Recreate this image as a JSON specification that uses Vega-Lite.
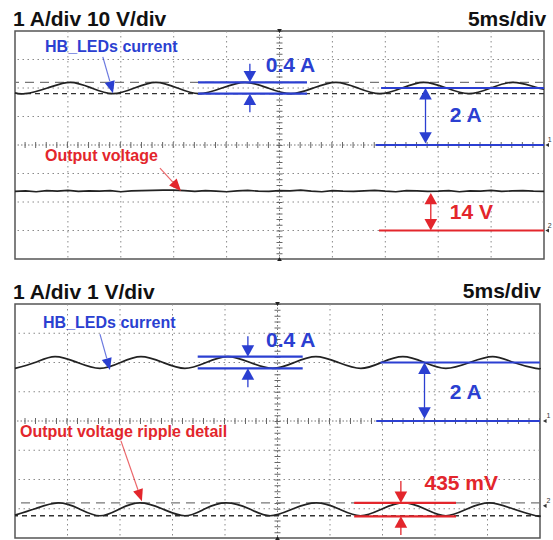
{
"$schema": "https://vega.github.io/schema/vega-lite/v6.json",
"background": "white",
"padding": {"left": 10, "top": 8, "right": 0, "bottom": 3},
"bounds": "flush",
"spacing": 45,
"config": {"view": {"stroke": "#555", "strokeWidth": 1.5}, "text": {"font": "Liberation Sans", "fontWeight": "bold"}},
"datasets": {
"vgrid": [{"x":5},{"x":10},{"x":15},{"x":20},{"x":30},{"x":35},{"x":40},{"x":45}],
"hgrid": [{"y":-3},{"y":-2},{"y":-1},{"y":1},{"y":2},{"y":3}],
"vc": [{"x":25}],
"hc": [{"y":0}],
"trig": [{"x":25,"y":4,"side":"top"},{"x":25,"y":-4,"side":"bottom"}],
"tCursor": [{"y":2.2,"lvl":"hi"},{"y":1.8,"lvl":"lo"}],
"bCursor": [{"y":-2.8,"lvl":"hi"},{"y":-3.24,"lvl":"lo"}],
"tCur": [{"x":0,"y":1.83},{"x":0.95,"y":1.8},{"x":3.07,"y":2.0},{"x":5.2,"y":2.2},{"x":7.23,"y":2.0},{"x":9.26,"y":1.8},{"x":11.29,"y":2.0},{"x":13.32,"y":2.2},{"x":15.35,"y":2.0},{"x":17.39,"y":1.8},{"x":19.56,"y":2.0},{"x":21.74,"y":2.2},{"x":23.9,"y":2.0},{"x":26.08,"y":1.8},{"x":28.2,"y":2.0},{"x":30.33,"y":2.2},{"x":32.4,"y":2.0},{"x":34.49,"y":1.8},{"x":36.57,"y":2.0},{"x":38.65,"y":2.2},{"x":40.78,"y":2.0},{"x":42.9,"y":1.8},{"x":44.98,"y":2.0},{"x":47.06,"y":2.2},{"x":49.0,"y":2.05},{"x":50,"y":1.96}],
"tVolt": [{"x":0,"y":-1.63},{"x":1,"y":-1.61},{"x":2,"y":-1.64},{"x":3,"y":-1.6},{"x":4,"y":-1.62},{"x":5,"y":-1.59},{"x":6,"y":-1.63},{"x":7,"y":-1.61},{"x":8,"y":-1.62},{"x":9,"y":-1.6},{"x":10,"y":-1.64},{"x":11,"y":-1.61},{"x":12,"y":-1.6},{"x":13,"y":-1.59},{"x":14,"y":-1.58},{"x":15,"y":-1.58},{"x":16,"y":-1.6},{"x":17,"y":-1.63},{"x":18,"y":-1.6},{"x":19,"y":-1.62},{"x":20,"y":-1.64},{"x":21,"y":-1.61},{"x":22,"y":-1.59},{"x":23,"y":-1.62},{"x":24,"y":-1.63},{"x":25,"y":-1.6},{"x":26,"y":-1.61},{"x":27,"y":-1.58},{"x":28,"y":-1.62},{"x":29,"y":-1.64},{"x":30,"y":-1.6},{"x":31,"y":-1.62},{"x":32,"y":-1.63},{"x":33,"y":-1.61},{"x":34,"y":-1.59},{"x":35,"y":-1.62},{"x":36,"y":-1.64},{"x":37,"y":-1.6},{"x":38,"y":-1.61},{"x":39,"y":-1.63},{"x":40,"y":-1.62},{"x":41,"y":-1.6},{"x":42,"y":-1.64},{"x":43,"y":-1.61},{"x":44,"y":-1.62},{"x":45,"y":-1.59},{"x":46,"y":-1.63},{"x":47,"y":-1.61},{"x":48,"y":-1.6},{"x":49,"y":-1.62},{"x":50,"y":-1.63}],
"bCur": [{"x":0,"y":1.8},{"x":1.9,"y":2.0},{"x":3.81,"y":2.2},{"x":5.95,"y":2.0},{"x":8.09,"y":1.8},{"x":10.05,"y":2.0},{"x":12.0,"y":2.2},{"x":14.1,"y":2.0},{"x":16.18,"y":1.8},{"x":18.2,"y":2.0},{"x":20.28,"y":2.2},{"x":22.4,"y":2.0},{"x":24.56,"y":1.8},{"x":26.6,"y":2.0},{"x":28.66,"y":2.2},{"x":30.8,"y":2.0},{"x":32.94,"y":1.8},{"x":34.9,"y":2.0},{"x":36.94,"y":2.2},{"x":39.0,"y":2.0},{"x":41.03,"y":1.8},{"x":43.3,"y":2.0},{"x":45.5,"y":2.2},{"x":47.5,"y":2.0},{"x":49.6,"y":1.8},{"x":50,"y":1.81}],
"bRip": [{"x":0,"y":-3.22},{"x":1.9,"y":-3.0},{"x":4.1,"y":-2.8},{"x":6.1,"y":-3.0},{"x":8.09,"y":-3.24},{"x":10.0,"y":-3.0},{"x":11.9,"y":-2.8},{"x":14.0,"y":-3.0},{"x":16.18,"y":-3.24},{"x":18.1,"y":-3.0},{"x":20.1,"y":-2.8},{"x":22.3,"y":-3.0},{"x":24.3,"y":-3.24},{"x":26.5,"y":-3.0},{"x":28.7,"y":-2.8},{"x":30.8,"y":-3.0},{"x":32.9,"y":-3.24},{"x":35.0,"y":-3.0},{"x":37.0,"y":-2.8},{"x":39.0,"y":-3.0},{"x":41.03,"y":-3.24},{"x":43.1,"y":-3.0},{"x":45.2,"y":-2.8},{"x":47.4,"y":-3.0},{"x":49.6,"y":-3.24},{"x":50,"y":-3.23}],
"tAnn": [
{"part":"level","ch":"I","x":17.3,"x2":27.6,"y":2.2},
{"part":"level","ch":"I","x":17.3,"x2":27.6,"y":1.8},
{"part":"level","ch":"I","x":34.6,"x2":50,"y":2.0},
{"part":"level","ch":"I","x":34.1,"x2":50,"y":0},
{"part":"level","ch":"V","x":34.4,"x2":50,"y":-3},
{"part":"shaft","ch":"I","x":22.2,"y":2.85,"x2":22.2,"y2":2.5},
{"part":"shaft","ch":"I","x":22.2,"y":1.5,"x2":22.2,"y2":1.15},
{"part":"shaft","ch":"I","x":38.8,"y":1.65,"x2":38.8,"y2":0.4},
{"part":"shaft","ch":"V","x":39.3,"y":-2.05,"x2":39.3,"y2":-2.65},
{"part":"ptr","ch":"I","x":8.3,"y":3.09,"x2":8.96,"y2":2.24},
{"part":"ptr","ch":"V","x":13.7,"y":-0.81,"x2":14.92,"y2":-1.3},
{"part":"hd","ch":"I","x":22.2,"y":2.2},
{"part":"hd","ch":"I","x":38.8,"y":0.05},
{"part":"hd","ch":"V","x":39.3,"y":-3.0},
{"part":"hu","ch":"I","x":22.2,"y":1.8},
{"part":"hu","ch":"I","x":38.8,"y":2.0},
{"part":"hu","ch":"V","x":39.3,"y":-1.68},
{"part":"p1","ch":"I","x":9.26,"y":1.82},
{"part":"p2","ch":"V","x":15.69,"y":-1.61},
{"part":"val","ch":"I","text":"0.4 A","x":23.7,"y":2.77},
{"part":"val","ch":"I","text":"2 A","x":41.1,"y":1.02},
{"part":"val","ch":"V","text":"14 V","x":41.1,"y":-2.39},
{"part":"lab","ch":"I","text":"HB_LEDs current","x":2.84,"y":3.44},
{"part":"lab","ch":"V","text":"Output voltage","x":2.84,"y":-0.39},
{"part":"tl","text":"1 A/div 10 V/div","x":-0.19,"y":4.18},
{"part":"tr","text":"5ms/div","x":50.2,"y":4.18},
{"part":"chm","text":"1","x":50.55,"y":0.17},
{"part":"chm","text":"2","x":50.55,"y":-2.83},
{"part":"chp","x":50.3,"y":0},
{"part":"chp","x":50.3,"y":-3}
],
"bAnn": [
{"part":"level","ch":"I","x":17.4,"x2":27.4,"y":2.2},
{"part":"level","ch":"I","x":17.4,"x2":27.4,"y":1.8},
{"part":"level","ch":"I","x":34.8,"x2":50,"y":2.0},
{"part":"level","ch":"I","x":34.4,"x2":50,"y":0},
{"part":"level","ch":"V","x":32.3,"x2":42.0,"y":-2.8},
{"part":"level","ch":"V","x":32.3,"x2":42.0,"y":-3.26},
{"part":"shaft","ch":"I","x":22.18,"y":2.9,"x2":22.18,"y2":2.55},
{"part":"shaft","ch":"I","x":22.18,"y":1.45,"x2":22.18,"y2":1.15},
{"part":"shaft","ch":"I","x":39.0,"y":1.65,"x2":39.0,"y2":0.45},
{"part":"shaft","ch":"V","x":36.75,"y":-2.05,"x2":36.75,"y2":-2.45},
{"part":"shaft","ch":"V","x":36.75,"y":-3.6,"x2":36.75,"y2":-3.9},
{"part":"ptr","ch":"I","x":8.09,"y":2.97,"x2":8.74,"y2":2.14},
{"part":"ptr","ch":"V","x":10.09,"y":-0.68,"x2":11.71,"y2":-2.35},
{"part":"hd","ch":"I","x":22.18,"y":2.2},
{"part":"hd","ch":"I","x":39.0,"y":0.08},
{"part":"hd","ch":"V","x":36.75,"y":-2.8},
{"part":"hu","ch":"I","x":22.18,"y":1.8},
{"part":"hu","ch":"I","x":39.0,"y":2.0},
{"part":"hu","ch":"V","x":36.75,"y":-3.26},
{"part":"p1","ch":"I","x":9.04,"y":1.74},
{"part":"p2","ch":"V","x":12.09,"y":-2.74},
{"part":"val","ch":"I","text":"0.4 A","x":23.9,"y":2.74},
{"part":"val","ch":"I","text":"2 A","x":41.4,"y":0.96},
{"part":"val","ch":"V","text":"435 mV","x":39.0,"y":-2.15},
{"part":"lab","ch":"I","text":"HB_LEDs current","x":2.67,"y":3.35},
{"part":"lab","ch":"V","text":"Output voltage ripple detail","x":0.48,"y":-0.38},
{"part":"tl","text":"1 A/div 1 V/div","x":-0.19,"y":4.17},
{"part":"tr","text":"5ms/div","x":50.1,"y":4.2},
{"part":"chm","text":"1","x":50.8,"y":0.17},
{"part":"chm","text":"2","x":50.8,"y":-2.75},
{"part":"chp","x":50.45,"y":0},
{"part":"chp","x":50.45,"y":-2.9}
]
},
"vconcat": [
{
"width": 529, "height": 228,
"layer": [
{"data":{"name":"vgrid"},"mark":{"type":"rule","color":"#8a8a8a","strokeWidth":1,"strokeDash":[1.5,3.5]},"encoding":{"x":{"field":"x","type":"quantitative","scale":{"domain":[0,50],"nice":false,"zero":false},"axis":null}}},
{"data":{"name":"hgrid"},"mark":{"type":"rule","color":"#8a8a8a","strokeWidth":1,"strokeDash":[1.5,3.5]},"encoding":{"y":{"field":"y","type":"quantitative","scale":{"domain":[-4,4],"nice":false,"zero":false},"axis":null}}},
{"data":{"name":"vc"},"mark":{"type":"rule","color":"#777","strokeWidth":1,"strokeDash":[1.5,2]},"encoding":{"x":{"field":"x","type":"quantitative","scale":{"domain":[0,50],"nice":false,"zero":false},"axis":null}}},
{"data":{"name":"vc"},"mark":{"type":"rule","color":"#666","strokeWidth":6,"strokeDash":[1,4.7]},"encoding":{"x":{"field":"x","type":"quantitative","scale":{"domain":[0,50],"nice":false,"zero":false},"axis":null}}},
{"data":{"name":"hc"},"mark":{"type":"rule","color":"#777","strokeWidth":1,"strokeDash":[1.5,2]},"encoding":{"y":{"field":"y","type":"quantitative","scale":{"domain":[-4,4],"nice":false,"zero":false},"axis":null}}},
{"data":{"name":"hc"},"mark":{"type":"rule","color":"#666","strokeWidth":6,"strokeDash":[1,9.58]},"encoding":{"y":{"field":"y","type":"quantitative","scale":{"domain":[-4,4],"nice":false,"zero":false},"axis":null}}},
{"data":{"name":"trig"},"transform":[{"filter":"datum.side==='top'"}],"mark":{"type":"point","shape":"triangle-down","filled":true,"size":22,"color":"#222","opacity":1},"encoding":{"x":{"field":"x","type":"quantitative","scale":{"domain":[0,50],"nice":false,"zero":false},"axis":null},"y":{"field":"y","type":"quantitative","scale":{"domain":[-4,4],"nice":false,"zero":false},"axis":null}}},
{"data":{"name":"trig"},"transform":[{"filter":"datum.side==='bottom'"}],"mark":{"type":"point","shape":"triangle-up","filled":true,"size":22,"color":"#222","opacity":1},"encoding":{"x":{"field":"x","type":"quantitative","scale":{"domain":[0,50],"nice":false,"zero":false},"axis":null},"y":{"field":"y","type":"quantitative","scale":{"domain":[-4,4],"nice":false,"zero":false},"axis":null}}},
{"data":{"name":"tCursor"},"transform":[{"filter":"datum.lvl==='hi'"}],"mark":{"type":"rule","color":"#777","strokeWidth":1.3,"strokeDash":[9,6]},"encoding":{"y":{"field":"y","type":"quantitative","scale":{"domain":[-4,4],"nice":false,"zero":false},"axis":null}}},
{"data":{"name":"tCursor"},"transform":[{"filter":"datum.lvl==='lo'"}],"mark":{"type":"rule","color":"#333","strokeWidth":1.3,"strokeDash":[5,4]},"encoding":{"y":{"field":"y","type":"quantitative","scale":{"domain":[-4,4],"nice":false,"zero":false},"axis":null}}},
{"data":{"name":"tCur"},"mark":{"type":"line","color":"#222","strokeWidth":1.7,"interpolate":"natural"},"encoding":{"x":{"field":"x","type":"quantitative","scale":{"domain":[0,50],"nice":false,"zero":false},"axis":null},"y":{"field":"y","type":"quantitative","scale":{"domain":[-4,4],"nice":false,"zero":false},"axis":null}}},
{"data":{"name":"tVolt"},"mark":{"type":"line","color":"#222","strokeWidth":1.7},"encoding":{"x":{"field":"x","type":"quantitative","scale":{"domain":[0,50],"nice":false,"zero":false},"axis":null},"y":{"field":"y","type":"quantitative","scale":{"domain":[-4,4],"nice":false,"zero":false},"axis":null}}},
{"data":{"name":"tAnn"},"transform":[{"filter":"datum.part==='level'"}],"mark":{"type":"rule","strokeWidth":2.2},"encoding":{"x":{"field":"x","type":"quantitative","scale":{"domain":[0,50],"nice":false,"zero":false},"axis":null},"x2":{"field":"x2"},"y":{"field":"y","type":"quantitative","scale":{"domain":[-4,4],"nice":false,"zero":false},"axis":null},"color":{"field":"ch","type":"nominal","scale":{"domain":["I","V"],"range":["#2b3fd1","#e3262c"]},"legend":null}}},
{"data":{"name":"tAnn"},"transform":[{"filter":"datum.part==='shaft'"}],"mark":{"type":"rule","strokeWidth":1.3},"encoding":{"x":{"field":"x","type":"quantitative","scale":{"domain":[0,50],"nice":false,"zero":false},"axis":null},"x2":{"field":"x2"},"y":{"field":"y","type":"quantitative","scale":{"domain":[-4,4],"nice":false,"zero":false},"axis":null},"y2":{"field":"y2"},"color":{"field":"ch","type":"nominal","scale":{"domain":["I","V"],"range":["#2b3fd1","#e3262c"]},"legend":null}}},
{"data":{"name":"tAnn"},"transform":[{"filter":"datum.part==='ptr'"}],"mark":{"type":"rule","strokeWidth":1.2,"opacity":0.7},"encoding":{"x":{"field":"x","type":"quantitative","scale":{"domain":[0,50],"nice":false,"zero":false},"axis":null},"x2":{"field":"x2"},"y":{"field":"y","type":"quantitative","scale":{"domain":[-4,4],"nice":false,"zero":false},"axis":null},"y2":{"field":"y2"},"color":{"field":"ch","type":"nominal","scale":{"domain":["I","V"],"range":["#2b3fd1","#e3262c"]},"legend":null}}},
{"data":{"name":"tAnn"},"transform":[{"filter":"datum.part==='hd'"}],"mark":{"type":"point","shape":"M0,0L-1.05,-1.9L1.05,-1.9Z","filled":true,"size":144,"opacity":1},"encoding":{"x":{"field":"x","type":"quantitative","scale":{"domain":[0,50],"nice":false,"zero":false},"axis":null},"y":{"field":"y","type":"quantitative","scale":{"domain":[-4,4],"nice":false,"zero":false},"axis":null},"color":{"field":"ch","type":"nominal","scale":{"domain":["I","V"],"range":["#2b3fd1","#e3262c"]},"legend":null}}},
{"data":{"name":"tAnn"},"transform":[{"filter":"datum.part==='hu'"}],"mark":{"type":"point","shape":"M0,0L-1.05,1.9L1.05,1.9Z","filled":true,"size":144,"opacity":1},"encoding":{"x":{"field":"x","type":"quantitative","scale":{"domain":[0,50],"nice":false,"zero":false},"axis":null},"y":{"field":"y","type":"quantitative","scale":{"domain":[-4,4],"nice":false,"zero":false},"axis":null},"color":{"field":"ch","type":"nominal","scale":{"domain":["I","V"],"range":["#2b3fd1","#e3262c"]},"legend":null}}},
{"data":{"name":"tAnn"},"transform":[{"filter":"datum.part==='p1'"}],"mark":{"type":"point","shape":"M0,0L-0.85,-2L0.85,-2Z","filled":true,"size":144,"opacity":1,"angle":344.5},"encoding":{"x":{"field":"x","type":"quantitative","scale":{"domain":[0,50],"nice":false,"zero":false},"axis":null},"y":{"field":"y","type":"quantitative","scale":{"domain":[-4,4],"nice":false,"zero":false},"axis":null},"color":{"field":"ch","type":"nominal","scale":{"domain":["I","V"],"range":["#2b3fd1","#e3262c"]},"legend":null}}},
{"data":{"name":"tAnn"},"transform":[{"filter":"datum.part==='p2'"}],"mark":{"type":"point","shape":"M0,0L-0.85,-2L0.85,-2Z","filled":true,"size":144,"opacity":1,"angle":317.5},"encoding":{"x":{"field":"x","type":"quantitative","scale":{"domain":[0,50],"nice":false,"zero":false},"axis":null},"y":{"field":"y","type":"quantitative","scale":{"domain":[-4,4],"nice":false,"zero":false},"axis":null},"color":{"field":"ch","type":"nominal","scale":{"domain":["I","V"],"range":["#2b3fd1","#e3262c"]},"legend":null}}},
{"data":{"name":"tAnn"},"transform":[{"filter":"datum.part==='val'"}],"mark":{"type":"text","align":"left","baseline":"middle","fontSize":21},"encoding":{"x":{"field":"x","type":"quantitative","scale":{"domain":[0,50],"nice":false,"zero":false},"axis":null},"y":{"field":"y","type":"quantitative","scale":{"domain":[-4,4],"nice":false,"zero":false},"axis":null},"text":{"field":"text"},"color":{"field":"ch","type":"nominal","scale":{"domain":["I","V"],"range":["#2b3fd1","#e3262c"]},"legend":null}}},
{"data":{"name":"tAnn"},"transform":[{"filter":"datum.part==='lab'"}],"mark":{"type":"text","align":"left","baseline":"middle","fontSize":16},"encoding":{"x":{"field":"x","type":"quantitative","scale":{"domain":[0,50],"nice":false,"zero":false},"axis":null},"y":{"field":"y","type":"quantitative","scale":{"domain":[-4,4],"nice":false,"zero":false},"axis":null},"text":{"field":"text"},"color":{"field":"ch","type":"nominal","scale":{"domain":["I","V"],"range":["#2b3fd1","#e3262c"]},"legend":null}}},
{"data":{"name":"tAnn"},"transform":[{"filter":"datum.part==='tl'"}],"mark":{"type":"text","align":"left","baseline":"alphabetic","fontSize":21,"color":"#111"},"encoding":{"x":{"field":"x","type":"quantitative","scale":{"domain":[0,50],"nice":false,"zero":false},"axis":null},"y":{"field":"y","type":"quantitative","scale":{"domain":[-4,4],"nice":false,"zero":false},"axis":null},"text":{"field":"text"}}},
{"data":{"name":"tAnn"},"transform":[{"filter":"datum.part==='tr'"}],"mark":{"type":"text","align":"right","baseline":"alphabetic","fontSize":21,"color":"#111"},"encoding":{"x":{"field":"x","type":"quantitative","scale":{"domain":[0,50],"nice":false,"zero":false},"axis":null},"y":{"field":"y","type":"quantitative","scale":{"domain":[-4,4],"nice":false,"zero":false},"axis":null},"text":{"field":"text"}}},
{"data":{"name":"tAnn"},"transform":[{"filter":"datum.part==='chm'"}],"mark":{"type":"text","align":"center","baseline":"middle","fontSize":7,"fontWeight":"normal","color":"#333"},"encoding":{"x":{"field":"x","type":"quantitative","scale":{"domain":[0,50],"nice":false,"zero":false},"axis":null},"y":{"field":"y","type":"quantitative","scale":{"domain":[-4,4],"nice":false,"zero":false},"axis":null},"text":{"field":"text"}}},
{"data":{"name":"tAnn"},"transform":[{"filter":"datum.part==='chp'"}],"mark":{"type":"point","shape":"triangle-left","filled":true,"size":18,"color":"#333","opacity":1},"encoding":{"x":{"field":"x","type":"quantitative","scale":{"domain":[0,50],"nice":false,"zero":false},"axis":null},"y":{"field":"y","type":"quantitative","scale":{"domain":[-4,4],"nice":false,"zero":false},"axis":null}}}
]
},
{
"width": 525, "height": 234,
"layer": [
{"data":{"name":"vgrid"},"mark":{"type":"rule","color":"#8a8a8a","strokeWidth":1,"strokeDash":[1.5,3.5]},"encoding":{"x":{"field":"x","type":"quantitative","scale":{"domain":[0,50],"nice":false,"zero":false},"axis":null}}},
{"data":{"name":"hgrid"},"mark":{"type":"rule","color":"#8a8a8a","strokeWidth":1,"strokeDash":[1.5,3.5]},"encoding":{"y":{"field":"y","type":"quantitative","scale":{"domain":[-4,4],"nice":false,"zero":false},"axis":null}}},
{"data":{"name":"vc"},"mark":{"type":"rule","color":"#777","strokeWidth":1,"strokeDash":[1.5,2]},"encoding":{"x":{"field":"x","type":"quantitative","scale":{"domain":[0,50],"nice":false,"zero":false},"axis":null}}},
{"data":{"name":"vc"},"mark":{"type":"rule","color":"#666","strokeWidth":6,"strokeDash":[1,4.85]},"encoding":{"x":{"field":"x","type":"quantitative","scale":{"domain":[0,50],"nice":false,"zero":false},"axis":null}}},
{"data":{"name":"hc"},"mark":{"type":"rule","color":"#777","strokeWidth":1,"strokeDash":[1.5,2]},"encoding":{"y":{"field":"y","type":"quantitative","scale":{"domain":[-4,4],"nice":false,"zero":false},"axis":null}}},
{"data":{"name":"hc"},"mark":{"type":"rule","color":"#666","strokeWidth":6,"strokeDash":[1,9.5]},"encoding":{"y":{"field":"y","type":"quantitative","scale":{"domain":[-4,4],"nice":false,"zero":false},"axis":null}}},
{"data":{"name":"trig"},"transform":[{"filter":"datum.side==='top'"}],"mark":{"type":"point","shape":"triangle-down","filled":true,"size":22,"color":"#222","opacity":1},"encoding":{"x":{"field":"x","type":"quantitative","scale":{"domain":[0,50],"nice":false,"zero":false},"axis":null},"y":{"field":"y","type":"quantitative","scale":{"domain":[-4,4],"nice":false,"zero":false},"axis":null}}},
{"data":{"name":"trig"},"transform":[{"filter":"datum.side==='bottom'"}],"mark":{"type":"point","shape":"triangle-up","filled":true,"size":22,"color":"#222","opacity":1},"encoding":{"x":{"field":"x","type":"quantitative","scale":{"domain":[0,50],"nice":false,"zero":false},"axis":null},"y":{"field":"y","type":"quantitative","scale":{"domain":[-4,4],"nice":false,"zero":false},"axis":null}}},
{"data":{"name":"bCursor"},"transform":[{"filter":"datum.lvl==='hi'"}],"mark":{"type":"rule","color":"#777","strokeWidth":1.3,"strokeDash":[9,6]},"encoding":{"y":{"field":"y","type":"quantitative","scale":{"domain":[-4,4],"nice":false,"zero":false},"axis":null}}},
{"data":{"name":"bCursor"},"transform":[{"filter":"datum.lvl==='lo'"}],"mark":{"type":"rule","color":"#333","strokeWidth":1.3,"strokeDash":[5,4]},"encoding":{"y":{"field":"y","type":"quantitative","scale":{"domain":[-4,4],"nice":false,"zero":false},"axis":null}}},
{"data":{"name":"bCur"},"mark":{"type":"line","color":"#222","strokeWidth":1.7,"interpolate":"natural"},"encoding":{"x":{"field":"x","type":"quantitative","scale":{"domain":[0,50],"nice":false,"zero":false},"axis":null},"y":{"field":"y","type":"quantitative","scale":{"domain":[-4,4],"nice":false,"zero":false},"axis":null}}},
{"data":{"name":"bRip"},"mark":{"type":"line","color":"#222","strokeWidth":1.7,"interpolate":"natural"},"encoding":{"x":{"field":"x","type":"quantitative","scale":{"domain":[0,50],"nice":false,"zero":false},"axis":null},"y":{"field":"y","type":"quantitative","scale":{"domain":[-4,4],"nice":false,"zero":false},"axis":null}}},
{"data":{"name":"bAnn"},"transform":[{"filter":"datum.part==='level'"}],"mark":{"type":"rule","strokeWidth":2.2},"encoding":{"x":{"field":"x","type":"quantitative","scale":{"domain":[0,50],"nice":false,"zero":false},"axis":null},"x2":{"field":"x2"},"y":{"field":"y","type":"quantitative","scale":{"domain":[-4,4],"nice":false,"zero":false},"axis":null},"color":{"field":"ch","type":"nominal","scale":{"domain":["I","V"],"range":["#2b3fd1","#e3262c"]},"legend":null}}},
{"data":{"name":"bAnn"},"transform":[{"filter":"datum.part==='shaft'"}],"mark":{"type":"rule","strokeWidth":1.3},"encoding":{"x":{"field":"x","type":"quantitative","scale":{"domain":[0,50],"nice":false,"zero":false},"axis":null},"x2":{"field":"x2"},"y":{"field":"y","type":"quantitative","scale":{"domain":[-4,4],"nice":false,"zero":false},"axis":null},"y2":{"field":"y2"},"color":{"field":"ch","type":"nominal","scale":{"domain":["I","V"],"range":["#2b3fd1","#e3262c"]},"legend":null}}},
{"data":{"name":"bAnn"},"transform":[{"filter":"datum.part==='ptr'"}],"mark":{"type":"rule","strokeWidth":1.2,"opacity":0.7},"encoding":{"x":{"field":"x","type":"quantitative","scale":{"domain":[0,50],"nice":false,"zero":false},"axis":null},"x2":{"field":"x2"},"y":{"field":"y","type":"quantitative","scale":{"domain":[-4,4],"nice":false,"zero":false},"axis":null},"y2":{"field":"y2"},"color":{"field":"ch","type":"nominal","scale":{"domain":["I","V"],"range":["#2b3fd1","#e3262c"]},"legend":null}}},
{"data":{"name":"bAnn"},"transform":[{"filter":"datum.part==='hd'"}],"mark":{"type":"point","shape":"M0,0L-1.05,-1.9L1.05,-1.9Z","filled":true,"size":144,"opacity":1},"encoding":{"x":{"field":"x","type":"quantitative","scale":{"domain":[0,50],"nice":false,"zero":false},"axis":null},"y":{"field":"y","type":"quantitative","scale":{"domain":[-4,4],"nice":false,"zero":false},"axis":null},"color":{"field":"ch","type":"nominal","scale":{"domain":["I","V"],"range":["#2b3fd1","#e3262c"]},"legend":null}}},
{"data":{"name":"bAnn"},"transform":[{"filter":"datum.part==='hu'"}],"mark":{"type":"point","shape":"M0,0L-1.05,1.9L1.05,1.9Z","filled":true,"size":144,"opacity":1},"encoding":{"x":{"field":"x","type":"quantitative","scale":{"domain":[0,50],"nice":false,"zero":false},"axis":null},"y":{"field":"y","type":"quantitative","scale":{"domain":[-4,4],"nice":false,"zero":false},"axis":null},"color":{"field":"ch","type":"nominal","scale":{"domain":["I","V"],"range":["#2b3fd1","#e3262c"]},"legend":null}}},
{"data":{"name":"bAnn"},"transform":[{"filter":"datum.part==='p1'"}],"mark":{"type":"point","shape":"M0,0L-0.85,-2L0.85,-2Z","filled":true,"size":144,"opacity":1,"angle":344.5},"encoding":{"x":{"field":"x","type":"quantitative","scale":{"domain":[0,50],"nice":false,"zero":false},"axis":null},"y":{"field":"y","type":"quantitative","scale":{"domain":[-4,4],"nice":false,"zero":false},"axis":null},"color":{"field":"ch","type":"nominal","scale":{"domain":["I","V"],"range":["#2b3fd1","#e3262c"]},"legend":null}}},
{"data":{"name":"bAnn"},"transform":[{"filter":"datum.part==='p2'"}],"mark":{"type":"point","shape":"M0,0L-0.85,-2L0.85,-2Z","filled":true,"size":144,"opacity":1,"angle":340.7},"encoding":{"x":{"field":"x","type":"quantitative","scale":{"domain":[0,50],"nice":false,"zero":false},"axis":null},"y":{"field":"y","type":"quantitative","scale":{"domain":[-4,4],"nice":false,"zero":false},"axis":null},"color":{"field":"ch","type":"nominal","scale":{"domain":["I","V"],"range":["#2b3fd1","#e3262c"]},"legend":null}}},
{"data":{"name":"bAnn"},"transform":[{"filter":"datum.part==='val'"}],"mark":{"type":"text","align":"left","baseline":"middle","fontSize":21},"encoding":{"x":{"field":"x","type":"quantitative","scale":{"domain":[0,50],"nice":false,"zero":false},"axis":null},"y":{"field":"y","type":"quantitative","scale":{"domain":[-4,4],"nice":false,"zero":false},"axis":null},"text":{"field":"text"},"color":{"field":"ch","type":"nominal","scale":{"domain":["I","V"],"range":["#2b3fd1","#e3262c"]},"legend":null}}},
{"data":{"name":"bAnn"},"transform":[{"filter":"datum.part==='lab'"}],"mark":{"type":"text","align":"left","baseline":"middle","fontSize":16},"encoding":{"x":{"field":"x","type":"quantitative","scale":{"domain":[0,50],"nice":false,"zero":false},"axis":null},"y":{"field":"y","type":"quantitative","scale":{"domain":[-4,4],"nice":false,"zero":false},"axis":null},"text":{"field":"text"},"color":{"field":"ch","type":"nominal","scale":{"domain":["I","V"],"range":["#2b3fd1","#e3262c"]},"legend":null}}},
{"data":{"name":"bAnn"},"transform":[{"filter":"datum.part==='tl'"}],"mark":{"type":"text","align":"left","baseline":"alphabetic","fontSize":21,"color":"#111"},"encoding":{"x":{"field":"x","type":"quantitative","scale":{"domain":[0,50],"nice":false,"zero":false},"axis":null},"y":{"field":"y","type":"quantitative","scale":{"domain":[-4,4],"nice":false,"zero":false},"axis":null},"text":{"field":"text"}}},
{"data":{"name":"bAnn"},"transform":[{"filter":"datum.part==='tr'"}],"mark":{"type":"text","align":"right","baseline":"alphabetic","fontSize":21,"color":"#111"},"encoding":{"x":{"field":"x","type":"quantitative","scale":{"domain":[0,50],"nice":false,"zero":false},"axis":null},"y":{"field":"y","type":"quantitative","scale":{"domain":[-4,4],"nice":false,"zero":false},"axis":null},"text":{"field":"text"}}},
{"data":{"name":"bAnn"},"transform":[{"filter":"datum.part==='chm'"}],"mark":{"type":"text","align":"center","baseline":"middle","fontSize":7,"fontWeight":"normal","color":"#333"},"encoding":{"x":{"field":"x","type":"quantitative","scale":{"domain":[0,50],"nice":false,"zero":false},"axis":null},"y":{"field":"y","type":"quantitative","scale":{"domain":[-4,4],"nice":false,"zero":false},"axis":null},"text":{"field":"text"}}},
{"data":{"name":"bAnn"},"transform":[{"filter":"datum.part==='chp'"}],"mark":{"type":"point","shape":"triangle-left","filled":true,"size":18,"color":"#333","opacity":1},"encoding":{"x":{"field":"x","type":"quantitative","scale":{"domain":[0,50],"nice":false,"zero":false},"axis":null},"y":{"field":"y","type":"quantitative","scale":{"domain":[-4,4],"nice":false,"zero":false},"axis":null}}}
]
}
]
}
